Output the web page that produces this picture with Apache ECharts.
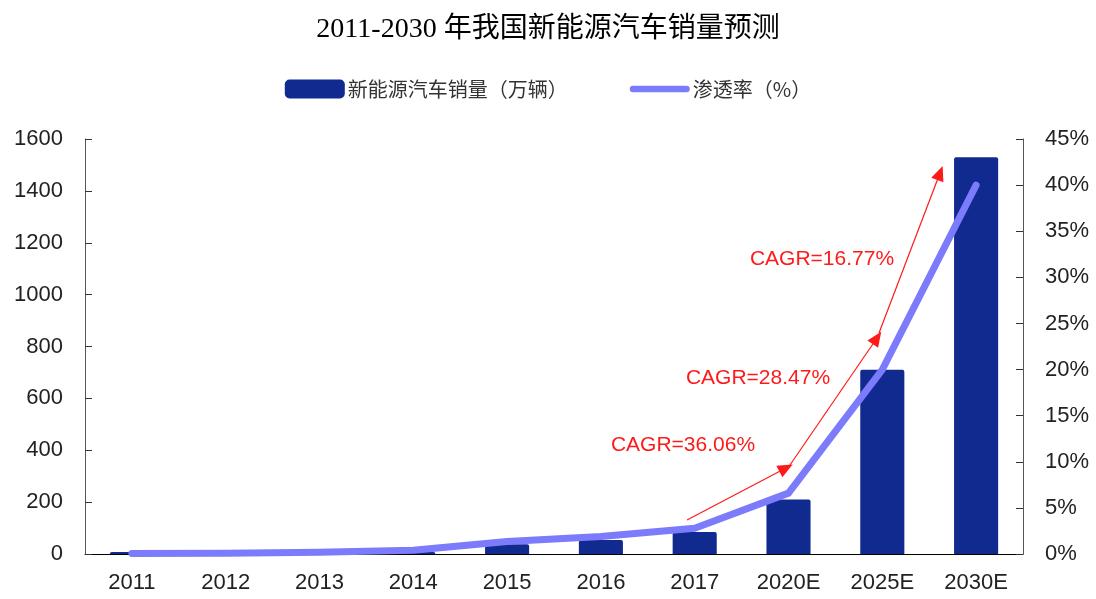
<!DOCTYPE html>
<html>
<head>
<meta charset="utf-8">
<script src="https://cdn.jsdelivr.net/npm/echarts@6/dist/echarts.min.js"></script>
<style>
  html, body { margin: 0; padding: 0; background: #fff; }
  #chart { width: 1096px; height: 599px; }
</style>
</head>
<body>
<div id="chart"></div>
<script>
// categories and values
const years = ['2011', '2012', '2013', '2014', '2015', '2016', '2017', '2020E', '2025E', '2030E']
const sales = [8, 1.3, 1.8, 7.5, 38, 54, 85, 210, 710, 1530]          // 万辆
const penetration = [0.05, 0.08, 0.2, 0.4, 1.35, 1.9, 2.8, 6.6, 20, 40] // %
const salesTicks = { min: 0, max: 1600, interval: 200 }
const rateTicks = { min: 0, max: 45, interval: 5 }
const cagrLabels = ['CAGR=36.06%', 'CAGR=28.47%', 'CAGR=16.77%']

const BAR = '#102a8f'
const LINE = '#7b7bfb'
const RED = '#ff1a1a'
const TXT = '#222'

const chart = echarts.init(document.getElementById('chart'), null, { renderer: 'canvas' })

// arrows and their labels are annotations in pixel space
const arrows = [
  [[687, 520], [786, 468]],
  [[790, 465], [877, 338]],
  [[879, 333], [940, 173]],
]
const labelPos = [[683, 445], [758, 378], [822, 259]]

// thick rounded stroke used as the legend icon of the line
const lineIcon = 'path://M3.5,0 L60.5,0 A3.5,3.5 0 0 1 60.5,7 L3.5,7 A3.5,3.5 0 0 1 3.5,0 Z'

chart.setOption({
  animation: false,
  title: {
    text: '2011-2030 年我国新能源汽车销量预测',
    left: 'center',
    top: 11,
    textStyle: {
      fontFamily: '"Liberation Serif", "Noto Sans CJK SC", serif',
      fontSize: 28,
      fontWeight: 'normal',
      color: '#000',
    },
  },
  legend: {
    top: 74,
    left: 'center',
    itemWidth: 60,
    itemHeight: 19,
    itemGap: 62,
    textStyle: {
      fontFamily: '"Noto Sans CJK SC", sans-serif',
      fontSize: 20,
      color: '#333',
      padding: [0, 0, 0, -2],
    },
    data: [
      { name: '新能源汽车销量（万辆）', icon: 'roundRect' },
      { name: '渗透率（%）', icon: lineIcon },
    ],
  },
  grid: { left: 85, right: 73, top: 139, bottom: 45, containLabel: false, outerBoundsMode: 'none' },
  xAxis: {
    type: 'category',
    data: years,
    axisLine: { lineStyle: { color: '#000', width: 1 } },
    axisTick: { inside: true, length: 5, lineStyle: { color: '#333' } },
    axisLabel: {
      margin: 18,
      fontFamily: '"Liberation Sans", Arial, sans-serif',
      fontSize: 22,
      color: TXT,
    },
  },
  yAxis: [
    {
      type: 'value',
      ...salesTicks,
      axisLine: { show: true, lineStyle: { color: '#555' } },
      axisTick: { show: true, inside: true, length: 7, lineStyle: { color: '#333' } },
      splitLine: { show: false },
      axisLabel: {
        margin: 22,
        formatter: (v) => String(v),
        fontFamily: '"Liberation Sans", Arial, sans-serif',
        fontSize: 22,
        color: TXT,
      },
    },
    {
      type: 'value',
      ...rateTicks,
      position: 'right',
      axisLine: { show: true, lineStyle: { color: '#555' } },
      axisTick: { show: true, inside: true, length: 7, lineStyle: { color: '#333' } },
      splitLine: { show: false },
      axisLabel: {
        margin: 22,
        formatter: '{value}%',
        fontFamily: '"Liberation Sans", Arial, sans-serif',
        fontSize: 22,
        color: TXT,
      },
    },
  ],
  series: [
    {
      name: '新能源汽车销量（万辆）',
      type: 'bar',
      data: sales,
      barWidth: '47%',
      itemStyle: { color: BAR, borderRadius: [2, 2, 0, 0] },
    },
    {
      name: '渗透率（%）',
      type: 'line',
      yAxisIndex: 1,
      data: penetration,
      symbol: 'none',
      showSymbol: false,
      lineStyle: { color: LINE, width: 7, cap: 'round', join: 'round' },
      itemStyle: { color: LINE },
      z: 3,
      markLine: {
        silent: true,
        symbol: ['none', 'triangle'],
        symbolSize: [13, 15],
        label: { show: false },
        lineStyle: { color: RED, width: 1.2, type: 'solid' },
        data: arrows.map(([a, b]) => [
          { x: a[0], y: a[1] },
          { x: b[0], y: b[1] },
        ]),
      },
    },
  ],
  graphic: cagrLabels.map((t, i) => ({
    type: 'text',
    x: labelPos[i][0],
    y: labelPos[i][1],
    z: 10,
    style: {
      text: t,
      fill: RED,
      font: '21px "Liberation Sans", Arial, sans-serif',
      align: 'center',
      verticalAlign: 'middle',
    },
  })),
})
</script>
</body>
</html>
